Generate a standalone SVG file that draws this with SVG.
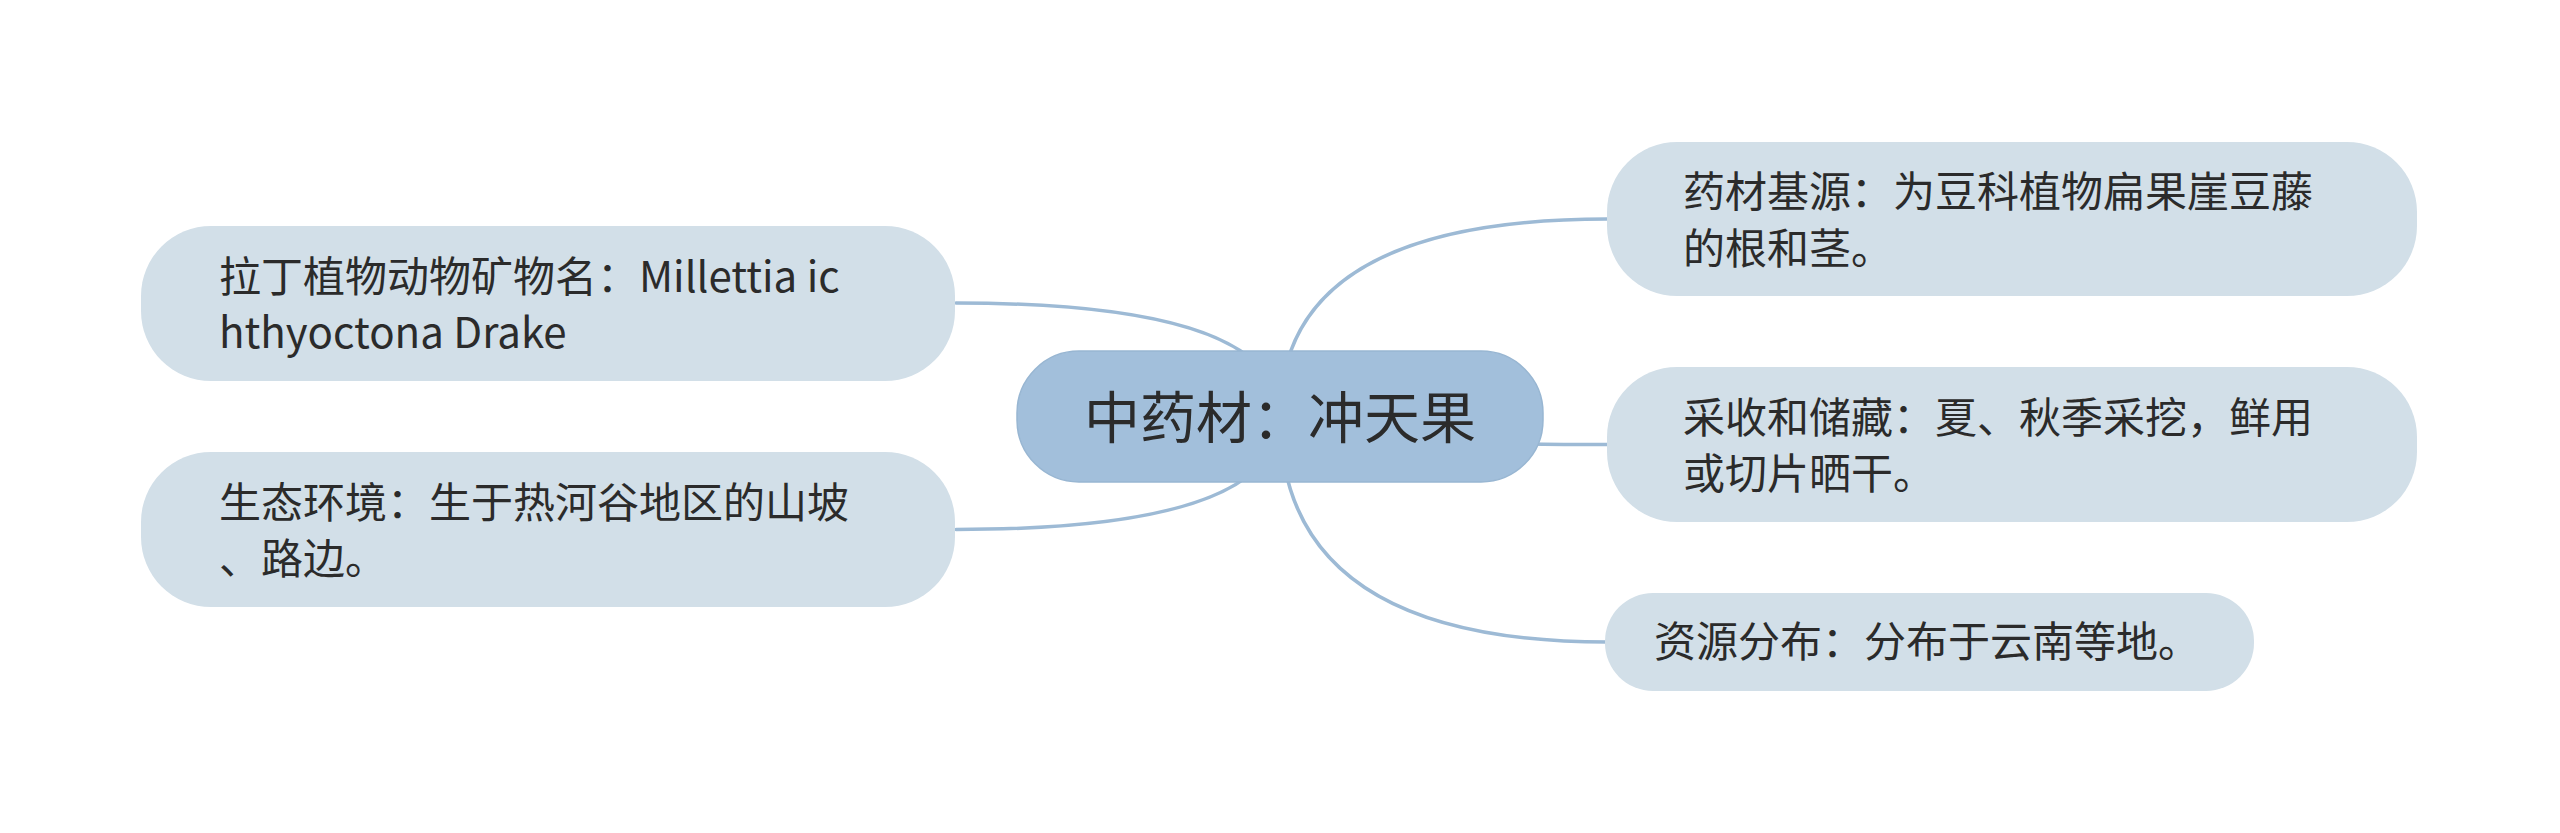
<svg xmlns="http://www.w3.org/2000/svg" width="2560" height="833" viewBox="0 0 2560 833">
<style>
.bg{fill:#ffffff}
.conn{fill:none;stroke:#9dbad5;stroke-width:3.5;stroke-linecap:round}
.root{fill:#a2bfdb;stroke:#98b6d2;stroke-width:1.5}
.child{fill:#d2dfe8}
.t{font-family:"Noto Sans CJK SC","Noto Sans",sans-serif;fill:#2b2b2b}
.ct{font-size:42px}
.rt{font-size:56px;text-anchor:middle}
</style>
<rect class="bg" x="0" y="0" width="2560" height="833"/>
<g id="connectors">
<path class="conn" d="M 1280 416 Q 1280 303 956 303"/>
<path class="conn" d="M 1280 416 Q 1280 529.5 956 529.5"/>
<path class="conn" d="M 1280 416 Q 1280 219 1607 219"/>
<path class="conn" d="M 1280 416 Q 1280 444.5 1607 444.5"/>
<path class="conn" d="M 1280 416 Q 1280 642 1607 642"/>
</g>
<g id="root">
<rect class="root" x="1017" y="351" width="526" height="131" rx="62" ry="62"/>
<text class="t rt" x="1280" y="438">中药材：冲天果</text>
</g>
<g id="node-latin">
<rect class="child" x="141" y="226" width="814" height="155" rx="70" ry="70"/>
<text class="t ct" x="219" y="291.5">拉丁植物动物矿物名：Millettia ic</text>
<text class="t ct" x="219" y="348">hthyoctona Drake</text>
</g>
<g id="node-env">
<rect class="child" x="141" y="452" width="814" height="155" rx="70" ry="70"/>
<text class="t ct" x="219" y="517.5">生态环境：生于热河谷地区的山坡</text>
<text class="t ct" x="219" y="574">、路边。</text>
</g>
<g id="node-source">
<rect class="child" x="1607" y="142" width="810" height="154" rx="70" ry="70"/>
<text class="t ct" x="1683" y="207">药材基源：为豆科植物扁果崖豆藤</text>
<text class="t ct" x="1683" y="263.5">的根和茎。</text>
</g>
<g id="node-harvest">
<rect class="child" x="1607" y="367" width="810" height="155" rx="70" ry="70"/>
<text class="t ct" x="1683" y="432.5">采收和储藏：夏、秋季采挖，鲜用</text>
<text class="t ct" x="1683" y="489">或切片晒干。</text>
</g>
<g id="node-dist">
<rect class="child" x="1605" y="593" width="649" height="98" rx="48" ry="48"/>
<text class="t ct" x="1654" y="657">资源分布：分布于云南等地。</text>
</g>
</svg>
